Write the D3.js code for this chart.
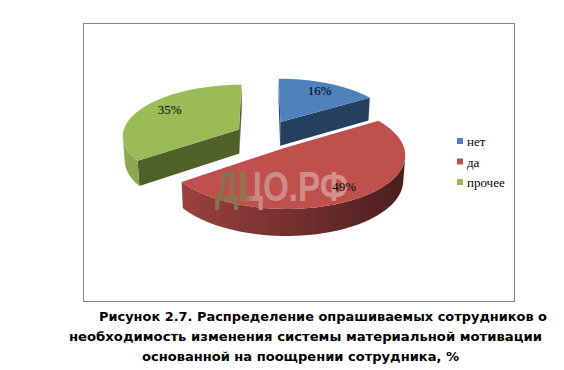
<!DOCTYPE html>
<html>
<head>
<meta charset="utf-8">
<script src="https://cdn.jsdelivr.net/npm/d3@7"></script>
<style>
  body { margin: 0; background: #fff; }
  svg { display: block; }
</style>
</head>
<body>
<div id="chart"></div>
<script>
// data
var categories = ['нет', 'да', 'прочее'];
var values = [16, 49, 35];
var valueLabels = ['16%', '49%', '35%'];
var captionLines = [
  'Рисунок 2.7. Распределение опрашиваемых сотрудников о',
  'необходимость изменения системы материальной мотивации',
  'основанной на поощрении сотрудника, %'
];

const width = 564, height = 370;

var svg = d3.select('#chart')
            .append('svg')
            .attr('width', width)
            .attr('height', height);

var defs = svg.append('defs');

var palette = d3.scaleOrdinal()
                .domain(categories)
                .range(['#4F81BD', '#C0504D', '#9BBB59']);
var sideColor = d3.scaleOrdinal()
                .domain(categories)
                .range(['#263f5f', '#7a2e2d', '#4f6129']);

// frame
svg.append('rect')
   .attr('x', 83.5).attr('y', 23.5)
   .attr('width', 431).attr('height', 278)
   .attr('fill', 'none')
   .attr('stroke', '#868686')
   .attr('stroke-width', 1);

// 3d projection settings
const R = 115;               // radius
const phi = 27.4 * Math.PI / 180;   // elevation
const D = 920;               // camera distance
const h = 27;                // thickness
const explode = [34.5, 34.5, 28];
const ox = 264, oy = 159.3;
const cam = [0, D * Math.sin(phi), D * Math.cos(phi)];

function project(X, Y, Z) {
    var yc = Y * Math.cos(phi) - Z * Math.sin(phi);
    var d = Y * Math.sin(phi) + Z * Math.cos(phi);
    var s = D / (D - d);
    return [ox + s * X, oy - s * yc];
}
function facing(n, p) {
    return n[0] * (cam[0] - p[0]) + n[1] * (cam[1] - p[1]) + n[2] * (cam[2] - p[2]) > 0;
}

var pie = d3.pie().sort(null).value(d => d)(values);

var slices = pie.map((p, i) => {
    var m = (p.startAngle + p.endAngle) / 2;
    return {
        name: categories[i], label: valueLabels[i],
        a0: p.startAngle, a1: p.endAngle, mid: m,
        ex: explode[i] * Math.sin(m), ez: -explode[i] * Math.cos(m)
    };
});

function rim(s, t, Y, r) {
    r = (r === undefined) ? R : r;
    return [s.ex + r * Math.sin(t), Y, s.ez - r * Math.cos(t)];
}
const line = d3.line();
function poly(pts3) {
    return line(pts3.map(p => project(p[0], p[1], p[2]))) + 'Z';
}

// gradient for curved walls
slices.forEach((s, i) => {
    var g = defs.append('linearGradient')
        .attr('id', 'wall' + i)
        .attr('gradientUnits', 'userSpaceOnUse')
        .attr('x1', 120).attr('x2', 410).attr('y1', 0).attr('y2', 0);
    var base = palette(s.name);
    g.append('stop').attr('offset', 0).attr('stop-color', d3.interpolateRgb(base, '#000')(0.08));
    g.append('stop').attr('offset', 1).attr('stop-color', d3.interpolateRgb(base, '#000')(0.62));
});

var pieG = svg.append('g').attr('class', 'pie');

// back slices first
var order = slices.slice().sort((a, b) => a.ez - b.ez);

order.forEach(s => {
    var i = categories.indexOf(s.name);
    var g = pieG.append('g');
    var c0 = [s.ex, 0, s.ez], cT = [s.ex, h, s.ez];

    // radial walls
    var n0 = [-Math.cos(s.a0), 0, -Math.sin(s.a0)];
    if (facing(n0, c0)) {
        g.append('path')
         .attr('d', poly([cT, rim(s, s.a0, h), rim(s, s.a0, 0), c0]))
         .attr('fill', sideColor(s.name));
    }
    var n1 = [Math.cos(s.a1), 0, Math.sin(s.a1)];
    if (facing(n1, c0)) {
        g.append('path')
         .attr('d', poly([cT, rim(s, s.a1, h), rim(s, s.a1, 0), c0]))
         .attr('fill', sideColor(s.name));
    }

    // curved wall, visible runs
    var N = 120, runs = [], cur = null;
    for (var k = 0; k <= N; k++) {
        var t = s.a0 + (s.a1 - s.a0) * k / N;
        var tm = Math.min(Math.max(t, s.a0 + 1e-4), s.a1 - 1e-4);
        var vis = facing([Math.sin(tm), 0, -Math.cos(tm)], rim(s, tm, 0));
        if (vis) {
            if (!cur) { cur = []; runs.push(cur); }
            cur.push(t);
        } else {
            cur = null;
        }
    }
    runs.forEach(r => {
        if (r.length < 2) return;
        var top = r.map(t => rim(s, t, h));
        var bot = r.slice().reverse().map(t => rim(s, t, 0));
        g.append('path')
         .attr('d', poly(top.concat(bot)))
         .attr('fill', 'url(#wall' + i + ')');
    });

    // top face
    var arc = d3.range(0, N + 1).map(k => rim(s, s.a0 + (s.a1 - s.a0) * k / N, h));
    g.append('path')
     .attr('d', poly([cT].concat(arc)))
     .attr('fill', palette(s.name));
});

// watermark
var wm = defs.append('linearGradient').attr('id', 'wm')
    .attr('gradientUnits', 'userSpaceOnUse')
    .attr('x1', 215).attr('x2', 348).attr('y1', 0).attr('y2', 0);
wm.append('stop').attr('offset', 0).attr('stop-color', '#85704f');
wm.append('stop').attr('offset', 0.22).attr('stop-color', '#8f7354');
wm.append('stop').attr('offset', 0.3).attr('stop-color', '#c98886');
wm.append('stop').attr('offset', 1).attr('stop-color', '#d8918f');
svg.append('text')
   .attr('x', 215).attr('y', 201)
   .attr('textLength', 133)
   .attr('lengthAdjust', 'spacingAndGlyphs')
   .style('font-family', 'Liberation Sans, Arial, sans-serif')
   .style('font-weight', 'bold')
   .style('font-size', '43px')
   .attr('fill', 'url(#wm)')
   .text('ДЦО.РФ');

// value labels
var labelFrac = [0.8, 0.8, 0.76];
var labelTurn = [0, 0, 0.1];
slices.forEach((s, i) => {
    var p = rim(s, s.mid + labelTurn[i], h, R * labelFrac[i]);
    var xy = project(p[0], p[1], p[2]);
    svg.append('text')
       .attr('x', xy[0]).attr('y', xy[1])
       .attr('text-anchor', 'middle')
       .attr('dy', '0.35em')
       .style('font-family', 'Liberation Serif, Times New Roman, serif')
       .style('font-size', '13px')
       .attr('fill', '#000')
       .text(s.label);
});

// legend
var legend = svg.append('g')
                .attr('transform', 'translate(457, 138)');
var item = legend.selectAll('g')
                 .data(categories)
                 .enter()
                 .append('g')
                 .attr('transform', (d, i) => `translate(0, ${i * 20.5})`);
item.append('rect')
    .attr('width', 6).attr('height', 6)
    .attr('fill', d => palette(d));
item.append('text')
    .attr('x', 10).attr('y', 8)
    .style('font-family', 'Liberation Serif, Times New Roman, serif')
    .style('font-size', '13px')
    .attr('fill', '#000')
    .text(d => d);

// caption
var capX = [99, 69, 142];
var capW = [448, 473, 317];
svg.selectAll('.caption')
   .data(captionLines)
   .enter()
   .append('text')
   .attr('class', 'caption')
   .attr('x', (d, i) => capX[i])
   .attr('y', (d, i) => 321 + i * 20)
   .attr('textLength', (d, i) => capW[i])
   .attr('lengthAdjust', 'spacingAndGlyphs')
   .style('font-family', 'DejaVu Sans, Verdana, sans-serif')
   .style('font-weight', 'bold')
   .style('font-size', '12px')
   .attr('fill', '#000')
   .text(d => d);
</script>
</body>
</html>
